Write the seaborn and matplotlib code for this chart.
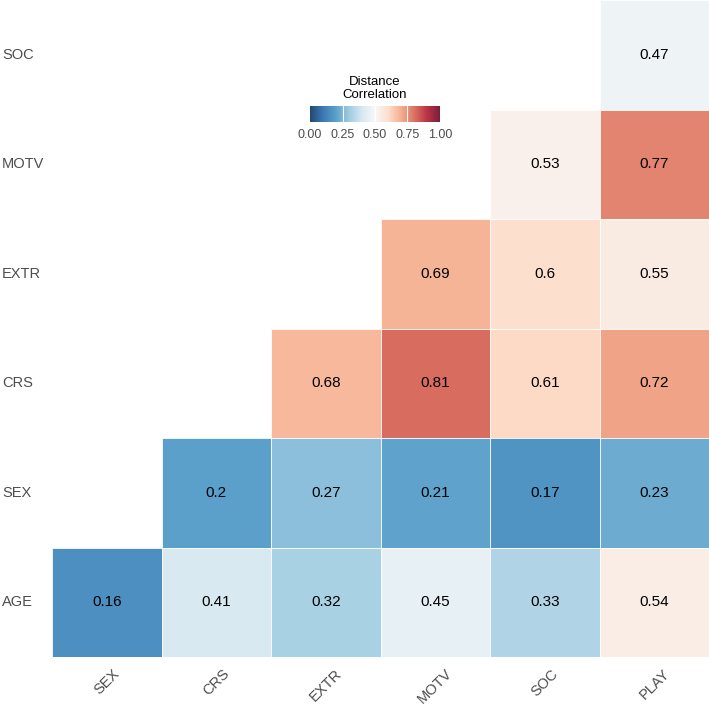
import numpy as np
import pandas as pd
import matplotlib
matplotlib.use("Agg")
import matplotlib.pyplot as plt
import seaborn as sns

# rows from top to bottom, columns from left to right
rows = ["SOC", "MOTV", "EXTR", "CRS", "SEX", "AGE"]
cols = ["SEX", "CRS", "EXTR", "MOTV", "SOC", "PLAY"]

soc_row = [np.nan, np.nan, np.nan, np.nan, np.nan, 0.47]
motv_row = [np.nan, np.nan, np.nan, np.nan, 0.53, 0.77]
extr_row = [np.nan, np.nan, np.nan, 0.69, 0.60, 0.55]
crs_row = [np.nan, np.nan, 0.68, 0.81, 0.61, 0.72]
sex_row = [np.nan, 0.20, 0.27, 0.21, 0.17, 0.23]
age_row = [0.16, 0.41, 0.32, 0.45, 0.33, 0.54]

cbar_ticks = [0.00, 0.25, 0.50, 0.75, 1.00]


def main():
    plt.rcParams["font.family"] = ["Liberation Sans", "DejaVu Sans"]

    df = pd.DataFrame([soc_row, motv_row, extr_row, crs_row, sex_row, age_row],
                      index=rows, columns=cols)
    labels = df.map(lambda v: "" if pd.isna(v) else f"{v:g}")

    fig = plt.figure(figsize=(7.09, 7.08), dpi=100)
    ax = fig.add_axes([52 / 709, 51 / 708, 657 / 709, 657 / 708])
    cax = fig.add_axes([310 / 709, (708 - 122) / 708, 130 / 709, 16 / 708])

    sns.heatmap(df, ax=ax, cmap="RdBu_r", vmin=0, vmax=1, alpha=0.88,
                annot=labels, fmt="", annot_kws={"fontsize": 11, "color": "black"},
                linewidths=0.6, linecolor="white",
                cbar_ax=cax, cbar_kws={"orientation": "horizontal", "ticks": cbar_ticks})

    ax.tick_params(axis="both", length=0, colors="#4d4d4d", labelsize=10.5)
    ax.set_yticklabels(rows, rotation=0, ha="left")
    ax.tick_params(axis="y", pad=36)
    ax.set_xticklabels(cols, rotation=45, ha="center")
    ax.tick_params(axis="x", pad=7)
    ax.set_xlabel("")
    ax.set_ylabel("")

    cax.tick_params(length=0, colors="#4d4d4d", labelsize=9, pad=5)
    cax.set_xticklabels([f"{t:.2f}" for t in cbar_ticks])
    for t in cbar_ticks[1:-1]:
        cax.axvline(t, color="white", linewidth=0.8)
    for s in cax.spines.values():
        s.set_visible(False)
    cax.set_title("Distance\nCorrelation", fontsize=9.5, color="black", pad=6, linespacing=1.1)

    fig.savefig("out.png", dpi=100)


if __name__ == "__main__":
    main()
